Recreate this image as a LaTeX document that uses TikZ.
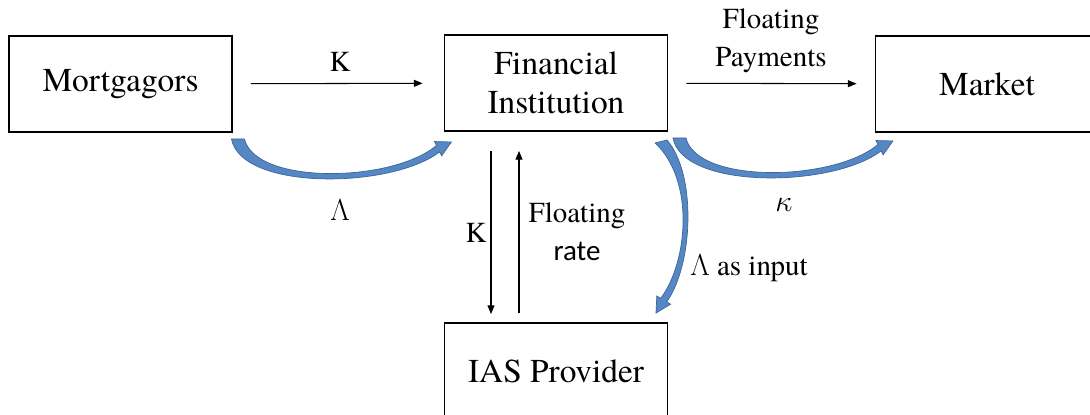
\documentclass[tikz,border=0pt]{standalone}
\usepackage{fontspec}
\setmainfont{texgyretermes}[Extension=.otf,UprightFont=*-regular,ItalicFont=*-italic,BoldFont=*-bold,BoldItalicFont=*-bolditalic]
\newfontfamily\calibri{Carlito}
\usetikzlibrary{arrows.meta,calc}
\definecolor{bendblue}{RGB}{84,135,196}
\definecolor{bendedge}{RGB}{60,102,150}
\tikzset{
  party/.style={draw,line width=1.1pt,minimum width=4.46cm,minimum height=1.92cm,align=center,font=\fontsize{19}{22}\selectfont},
  flow/.style={-{Triangle[length=5pt,width=4pt]},line width=0.6pt},
  tag/.style={align=center,font=\fontsize{16.5}{21.6}\selectfont},
  bluebend/.pic={
    \fill[bendblue,draw=bendedge,line width=0.4pt] (0,0) .. controls (10,52) and (160,50) .. (208.2,12.9)
      -- (210.2,16.9) -- (220,3) -- (203,2.6) -- (205,6.6) .. controls (160,44) and (24,46) .. (13,0) -- cycle;
  }
}
\begin{document}
\begin{tikzpicture}[x=0.02cm,y=-0.02cm]
\useasboundingbox (0,0) rectangle (1090,415);
% boxes
\node[party] (mort) at (120.5,84) {Mortgagors};
\node[party] (fin) at (556,83) {Financial\\Institution};
\node[party] (market) at (987,84) {Market};
\node[party] (ias) at (556,371) {IAS Provider};
% thin arrows
\draw[flow,shorten <=0.36cm,shorten >=0.42cm] (mort) -- (fin);
\draw[flow,shorten <=0.36cm,shorten >=0.36cm] (fin) -- (market);
\draw[flow,shorten <=0.38cm,shorten >=0.16cm] ([xshift=-1.3cm]fin.south) -- ([xshift=-1.3cm]ias.north);
\draw[flow,shorten <=0.18cm,shorten >=0.38cm] ([xshift=-0.74cm]ias.north) -- ([xshift=-0.74cm]fin.south);
% blue bends
\pic at ($(mort.south east)+(-1.5,6)$) {bluebend};
\pic at ($(fin.south east)+(4.5,6)$) {bluebend};
\fill[bendblue,draw=bendedge,line width=0.4pt] (667,140) .. controls (697,175) and (693,265) .. (666.7,301.9)
  -- (670.6,304.2) -- (656,313) -- (656.8,296) -- (660.7,298.3) .. controls (688,262) and (695,180) .. (655,143) -- cycle;
% labels
\node[tag] (kin) at (340,62) {K};
\node[tag] (pay) at (771,41) {Floating\\Payments};
\node[tag] (lam) at (340,210) {$\Lambda$};
\node[tag] (kap) at (784,205) {$\kappa$};
\node[tag] (kdown) at (476,233) {K};
\node[tag] (rate) at (577,232) {Floating\\{\calibri rate}};
\node[tag] (input) at (749,268) {$\Lambda$ as input};
\end{tikzpicture}
\end{document}
